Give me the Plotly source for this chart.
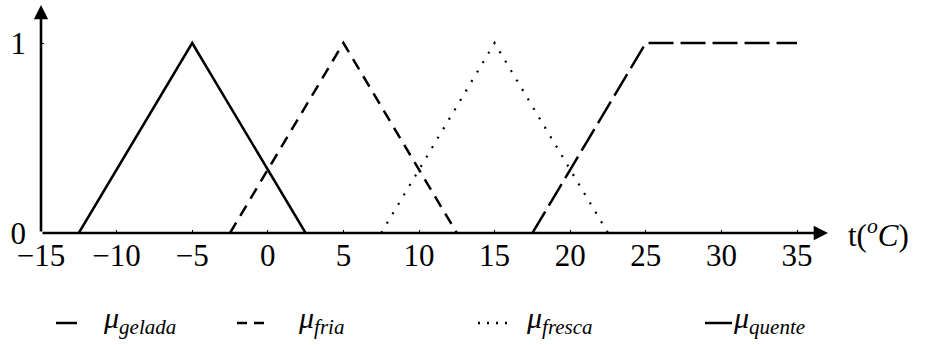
import plotly.graph_objects as go

# Membership functions for temperature (degrees Celsius)
gelada_x = [-12.5, -5, 2.5]
gelada_y = [0, 1, 0]
fria_x = [-2.5, 5, 12.5]
fria_y = [0, 1, 0]
fresca_x = [7.5, 15, 22.5]
fresca_y = [0, 1, 0]
quente_x = [17.5, 25, 35]
quente_y = [0, 1, 1]

x_ticks = [-15, -10, -5, 0, 5, 10, 15, 20, 25, 30, 35]
x_tick_text = [str(v).replace("-", "\u2212") for v in x_ticks]
y_ticks = [0, 1]

W, H = 926, 345
ML, MR, MT, MB = 41, 98, 5, 112
PW, PH = W - ML - MR, H - MT - MB
X_MIN = -15
X_MAX = X_MIN + PW / 15.12
Y_MAX = PH / 190.0

FONT = "Liberation Serif, Times New Roman, serif"
LW = 2.5

fig = go.Figure()
fig.add_trace(go.Scatter(x=gelada_x, y=gelada_y, mode="lines",
                         line=dict(color="black", width=LW)))
fig.add_trace(go.Scatter(x=fria_x, y=fria_y, mode="lines",
                         line=dict(color="black", width=LW, dash="12px,8px")))
fig.add_trace(go.Scatter(x=fresca_x, y=fresca_y, mode="lines",
                         line=dict(color="black", width=2.2, dash="2px,9px")))
fig.add_trace(go.Scatter(x=quente_x, y=quente_y, mode="lines",
                         line=dict(color="black", width=LW, dash="25px,7px")))


def px(xp):
    return (xp - ML) / PW


def py(yp):
    return (H - MB - yp) / PH


annotations = [
    # axes with arrowheads
    dict(x=X_MAX, y=0, ax=X_MIN, ay=0, xref="x", yref="y", axref="x", ayref="y",
         text="", showarrow=True, arrowhead=2, arrowsize=1.1, arrowwidth=2.6,
         arrowcolor="black"),
    dict(x=X_MIN, y=Y_MAX, ax=X_MIN, ay=0, xref="x", yref="y", axref="x", ayref="y",
         text="", showarrow=True, arrowhead=2, arrowsize=1.1, arrowwidth=2.6,
         arrowcolor="black"),
    dict(x=px(846), y=0, xref="paper", yref="y", xanchor="left", yanchor="middle",
         text="t(<sup><i>o</i></sup><i>C</i>)", showarrow=False,
         font=dict(family=FONT, size=31, color="black")),
]

shapes = []
legend_items = [
    (56, 77, "solid", "<i>\u03bc</i><sub><i>gelada</i></sub>", 101),
    (237, 267, "10px,7px", "<i>\u03bc</i><sub><i>fria</i></sub>", 296),
    (478, 510, "2px,7px", "<i>\u03bc</i><sub><i>fresca</i></sub>", 524),
    (705, 732, "solid", "<i>\u03bc</i><sub><i>quente</i></sub>", 731),
]
LEG_Y = 323
for x0, x1, dash, label, tx in legend_items:
    shapes.append(dict(type="line", xref="paper", yref="paper",
                       x0=px(x0), x1=px(x1), y0=py(LEG_Y), y1=py(LEG_Y),
                       line=dict(color="black", width=LW, dash=dash)))
    annotations.append(dict(x=px(tx), y=py(LEG_Y - 3), xref="paper", yref="paper",
                            xanchor="left", yanchor="middle", text=label,
                            showarrow=False,
                            font=dict(family=FONT, size=30, color="black")))

fig.update_layout(
    width=W, height=H,
    margin=dict(l=ML, r=MR, t=MT, b=MB, pad=0),
    paper_bgcolor="white", plot_bgcolor="white",
    showlegend=False,
    font=dict(family=FONT, size=31, color="black"),
    xaxis=dict(range=[X_MIN, X_MAX], tickvals=x_ticks, ticktext=x_tick_text,
               ticks="inside", ticklen=3, tickwidth=1, tickcolor="black",
               showgrid=False, zeroline=False, showline=False,
               ticklabelstandoff=1, tickfont=dict(family=FONT, size=31)),
    yaxis=dict(range=[0, Y_MAX], tickvals=y_ticks, ticks="inside", ticklen=3,
               tickwidth=1, tickcolor="black", showgrid=False, zeroline=False,
               showline=False, ticklabelstandoff=14,
               tickfont=dict(family=FONT, size=31)),
    annotations=annotations,
    shapes=shapes,
)

fig.write_html("out.html")
